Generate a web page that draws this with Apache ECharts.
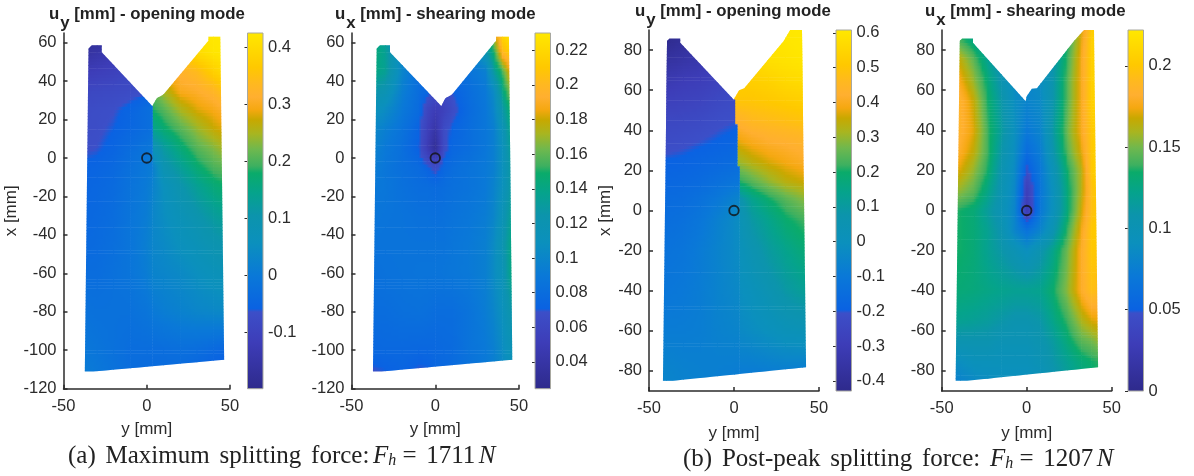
<!DOCTYPE html>
<html><head><meta charset="utf-8">
<style>html,body{margin:0;padding:0;background:#fff}#c{width:1194px;height:476px}</style>
<script src="https://cdn.jsdelivr.net/npm/echarts@6/dist/echarts.min.js"></script>
</head><body><div id="c"></div>
<script>
// ---------- colour scale (fraction, colour)
var scaleFractions = [0,.13,.216,.225,.316,.41,.487,.55,.606,.626,.673,.717,.756,.784,.82,.856,.903,.967,1];
var scaleColors = ['#2e2a8c','#3d3db8','#3c4fc8','#0a62e2','#0a78d8','#0b90bd','#0c94ac','#05a38c','#0aab6a','#3db060','#6fb84e','#a8b520','#c8a800','#f5a810','#ffaf30','#ffb820','#ffc800','#ffdd00','#ffe800'];

// ---------- panel 1: u_y, opening mode, maximum force
var rows1 = [65,55,45,35,25,15,5,-5,-15,-30,-45,-60,-80,-100,-115];
var cols1L = [-40,-30,-20,-10,0,4];
var vals1L = [
[-.19,-.19,-.17,-.15,-.12,-.1],
[-.165,-.15,-.13,-.11,-.09,-.085],
[-.125,-.115,-.105,-.09,-.08,-.07],
[-.09,-.085,-.08,-.075,-.068,-.065],
[-.075,-.07,-.065,-.05,-.03,-.02],
[-.072,-.068,-.058,-.045,-.03,-.02],
[-.068,-.063,-.05,-.03,-.01,0],
[-.055,-.05,-.04,-.02,0,.01],
[-.05,-.045,-.035,-.015,.005,.02],
[-.045,-.04,-.03,-.01,.01,.03],
[-.04,-.035,-.025,-.01,.015,.03],
[-.03,-.03,-.02,-.01,.01,.025],
[-.015,-.02,-.02,-.02,-.01,0],
[0,-.01,-.02,-.03,-.03,-.03],
[.015,0,-.015,-.03,-.035,-.035]];
var cols1R = [3,10,20,30,40,50];
var vals1R = [
[.28,.34,.39,.42,.425,.425],
[.27,.32,.36,.40,.42,.425],
[.25,.29,.32,.34,.38,.41],
[.21,.25,.30,.31,.33,.37],
[.18,.205,.25,.28,.295,.32],
[.14,.17,.205,.24,.27,.29],
[.075,.12,.165,.205,.23,.26],
[.01,.09,.13,.17,.2,.215],
[.02,.06,.10,.135,.165,.185],
[.03,.05,.075,.10,.125,.145],
[.03,.04,.06,.075,.095,.11],
[.025,.03,.04,.055,.07,.08],
[0,.01,.02,.03,.035,.04],
[-.03,-.03,-.025,-.03,-.04,-.05],
[-.035,-.035,-.04,-.05,-.07,-.08]];
var outline1L = [[-35,57],[-33,58.6],[-27,58.6],[-27,55],[3.3,27],[3.6,27],[3.6,-108.3],[-32,-111],[-37.2,-111]];
var outline1R = [[3.3,27],[6,31],[10,33],[37,61],[37,63],[44.2,63],[46.5,-105],[3.3,-108.3]];

// ---------- panel 2: u_x, shearing mode, maximum force
var rows2 = [65,55,45,35,25,15,5,-5,-15,-30,-45,-60,-80,-100,-115];
var cols2 = [-40,-30,-20,-10,-5,0,5,10,20,30,35,40,45,50];
var vals2 = [
[.14,.13,.10,.09,.085,.08,.085,.09,.10,.13,.18,.22,.23,.23],
[.15,.135,.10,.085,.08,.08,.08,.085,.09,.12,.15,.20,.215,.22],
[.145,.135,.10,.08,.08,.075,.075,.08,.085,.095,.13,.155,.19,.195],
[.13,.12,.095,.08,.075,.068,.065,.07,.08,.09,.105,.14,.17,.175],
[.115,.105,.09,.078,.06,.05,.055,.065,.078,.088,.10,.125,.15,.155],
[.105,.095,.085,.072,.055,.04,.065,.072,.08,.088,.095,.115,.14,.145],
[.10,.09,.082,.07,.05,.03,.065,.075,.08,.088,.095,.11,.135,.14],
[.095,.088,.082,.078,.072,.065,.075,.08,.085,.09,.095,.11,.13,.135],
[.09,.088,.083,.08,.08,.078,.08,.082,.085,.09,.098,.11,.13,.135],
[.088,.086,.085,.083,.083,.082,.083,.085,.088,.093,.10,.115,.135,.14],
[.085,.085,.085,.085,.085,.085,.085,.087,.09,.095,.105,.12,.14,.145],
[.082,.084,.085,.086,.086,.086,.087,.088,.09,.095,.105,.115,.14,.15],
[.08,.08,.082,.083,.082,.08,.08,.08,.085,.093,.10,.11,.125,.13],
[.075,.076,.076,.075,.075,.076,.077,.078,.085,.09,.095,.105,.115,.12],
[.065,.068,.072,.066,.067,.074,.076,.078,.083,.09,.095,.10,.11,.115]];
var outline2 = [[-35,57],[-33,58.6],[-27,58.6],[-27,55],[3.6,27],[6,31],[10,33],[36.3,61],[36.3,63],[44,63],[46,-105],[-32,-111],[-37.2,-111]];

// ---------- panel 3: u_y, opening mode, post-peak
var rows3 = [95,85,75,65,55,45,35,25,15,5,-5,-20,-40,-60,-80,-95];
var cols3L = [-50,-40,-30,-20,-10,0,10];
var vals3L = [
[-.43,-.43,-.41,-.39,-.36,-.34,-.33],
[-.42,-.42,-.39,-.37,-.34,-.32,-.3],
[-.38,-.37,-.35,-.33,-.30,-.28,-.27],
[-.33,-.32,-.30,-.29,-.27,-.25,-.24],
[-.29,-.28,-.27,-.26,-.24,-.225,-.215],
[-.25,-.245,-.24,-.23,-.215,-.205,-.2],
[-.225,-.225,-.215,-.205,-.195,-.185,-.17],
[-.2,-.195,-.19,-.18,-.17,-.16,-.14],
[-.18,-.175,-.17,-.16,-.14,-.12,-.1],
[-.16,-.155,-.15,-.13,-.1,-.06,-.02],
[-.15,-.145,-.135,-.11,-.07,-.03,.02],
[-.13,-.125,-.115,-.09,-.06,-.03,0],
[-.11,-.11,-.10,-.085,-.06,-.04,-.02],
[-.085,-.085,-.085,-.08,-.065,-.055,-.05],
[-.055,-.055,-.065,-.07,-.075,-.08,-.085],
[-.04,-.05,-.06,-.07,-.08,-.09,-.1]];
var cols3R = [0,10,20,30,40,50];
var vals3R = [
[.58,.59,.60,.61,.61,.61],
[.57,.58,.59,.60,.61,.61],
[.55,.56,.58,.59,.60,.60],
[.53,.53,.54,.56,.57,.58],
[.50,.50,.51,.52,.53,.54],
[.43,.46,.47,.48,.49,.50],
[.37,.40,.42,.43,.44,.45],
[.30,.34,.37,.39,.41,.42],
[.2,.25,.30,.34,.36,.38],
[.02,.13,.19,.24,.28,.30],
[0,.09,.14,.19,.22,.24],
[-.01,.05,.10,.14,.175,.19],
[-.02,.01,.05,.09,.12,.13],
[-.04,-.02,0,.02,.03,.04],
[-.085,-.085,-.08,-.075,-.08,-.085],
[-.1,-.1,-.1,-.1,-.1,-.1]];
var outline3L = [[-39.4,84.5],[-38,85.7],[-31.6,85.7],[-31.6,83.7],[-.2,55.3],[.7,55.3],[.7,43],[2.1,43],[2.1,22],[3.4,22],[3.4,-81.5],[-36,-84.9],[-41.8,-84.9]];
var outline3R = [[-.2,55.3],[3,60],[6,61],[29.2,84.5],[33,90],[40,90],[42.4,-78.2],[3.1,-81.5],[3.1,22],[1.9,22],[1.9,43],[.5,43],[.5,55.3]];

// ---------- panel 4: u_x, shearing mode, post-peak
var rows4 = [95,85,75,65,55,40,30,20,10,0,-10,-20,-40,-55,-65,-75,-85];
var cols4 = [-45,-39,-31,-23,-15,-7,0,8,16,24,32,38,45];
var vals4 = [
[.13,.13,.12,.105,.09,.085,.08,.09,.105,.13,.167,.2,.21],
[.14,.14,.125,.105,.09,.08,.078,.088,.105,.135,.172,.205,.215],
[.16,.165,.145,.12,.10,.085,.078,.088,.11,.14,.177,.205,.215],
[.175,.175,.155,.13,.105,.085,.08,.088,.11,.145,.177,.205,.215],
[.185,.185,.165,.135,.11,.088,.08,.085,.11,.145,.177,.205,.215],
[.185,.185,.17,.14,.115,.09,.07,.08,.115,.15,.177,.2,.215],
[.18,.18,.165,.14,.11,.088,.06,.075,.11,.145,.172,.2,.215],
[.17,.17,.155,.135,.105,.085,.045,.07,.10,.135,.162,.2,.215],
[.155,.155,.145,.125,.103,.082,.03,.068,.095,.13,.162,.195,.21],
[.14,.135,.13,.115,.10,.08,.025,.07,.095,.13,.167,.195,.205],
[.135,.135,.13,.12,.105,.08,.065,.08,.105,.14,.175,.2,.205],
[.135,.135,.13,.12,.11,.10,.09,.105,.125,.15,.18,.2,.2],
[.13,.13,.128,.125,.122,.12,.12,.122,.135,.155,.18,.195,.19],
[.12,.12,.118,.115,.11,.105,.105,.11,.125,.14,.16,.17,.175],
[.105,.105,.105,.105,.10,.10,.10,.105,.115,.13,.145,.15,.16],
[.09,.09,.095,.095,.095,.095,.095,.10,.11,.12,.13,.135,.14],
[.075,.08,.085,.088,.09,.09,.09,.095,.105,.115,.125,.13,.135]];
var outline4 = [[-39.4,84.5],[-38,85.7],[-31.6,85.7],[-31.6,83.7],[-.6,54.5],[0,57],[3,60.7],[6,61],[27.8,84.5],[33.7,90],[39.6,90],[42,-78.2],[-35,-84.9],[-41.8,-84.9]];

// ---------- ticks and colour ranges
var yTicksA = [-120,-100,-80,-60,-40,-20,0,20,40,60];
var yTicksB = [-80,-60,-40,-20,0,20,40,60,80];
var barTicks1 = [-.1,0,.1,.2,.3,.4];
var barTicks2 = [.04,.06,.08,.1,.12,.14,.16,.18,.2,.22];
var barTicks3 = [-.4,-.3,-.2,-.1,0,.1,.2,.3,.4,.5,.6];
var barTicks4 = [0,.05,.1,.15,.2];
var range1 = [-.198,.425], range2 = [.0245,.23], range3 = [-.429,.608], range4 = [0,.222];

// ---------- colour lookup
function hex(c){return [parseInt(c.substr(1,2),16),parseInt(c.substr(3,2),16),parseInt(c.substr(5,2),16)];}
var rgbStops = scaleColors.map(hex);
function colorAt(f){
  f = Math.max(0,Math.min(1,f));
  for (var k=1;k<scaleFractions.length;k++){
    if (f<=scaleFractions[k]){
      var t=(f-scaleFractions[k-1])/(scaleFractions[k]-scaleFractions[k-1]);
      var a=rgbStops[k-1], b=rgbStops[k];
      return 'rgb('+Math.round(a[0]+(b[0]-a[0])*t)+','+Math.round(a[1]+(b[1]-a[1])*t)+','+Math.round(a[2]+(b[2]-a[2])*t)+')';
    }
  }
  return scaleColors[scaleColors.length-1];
}

// ---------- one field patch drawn as a custom series on value axes
function fieldSeries(g, xs, ys, vals, outline, range){
  var data=[];
  xs.forEach(function(x,i){ ys.forEach(function(y,j){ data.push([y,x,vals[i][j]]); }); });
  var nc=ys.length, nr=xs.length, span=range[1]-range[0];
  return {
    type:'custom', coordinateSystem:'cartesian2d', xAxisIndex:g, yAxisIndex:g, silent:true, clip:false,
    data:data, encode:{x:0,y:1},
    renderItem:function(params,api){
      var idx=params.dataIndex, i=Math.floor(idx/nc), j=idx%nc;
      if (i>=nr-1||j>=nc-1) return null;
      var p0=api.coord([ys[j],xs[i]]), p1=api.coord([ys[j+1],xs[i+1]]);
      var w=p1[0]-p0[0], h=p1[1]-p0[1];
      var n=Math.max(1,Math.round(h/3)), m=Math.max(2,Math.round(w/2.5));
      var kids=[];
      for (var r=0;r<n;r++){
        var tv=(r+.5)/n, st=[];
        for (var s=0;s<=m;s++){
          var tu=s/m;
          var v=(1-tv)*((1-tu)*vals[i][j]+tu*vals[i][j+1])+tv*((1-tu)*vals[i+1][j]+tu*vals[i+1][j+1]);
          st.push({offset:tu,color:colorAt((v-range[0])/span)});
        }
        kids.push({type:'rect',silent:true,
          shape:{x:p0[0],y:p0[1]+r*h/n,width:w+.6,height:h/n+.6},
          style:{fill:new echarts.graphic.LinearGradient(0,0,1,0,st)}});
      }
      return {type:'group',children:kids,
        clipPath:{type:'polygon',shape:{points:outline.map(function(q){return api.coord(q);})}}};
    }
  };
}

function barSeries(g, range){
  return {
    type:'custom', coordinateSystem:'cartesian2d', xAxisIndex:g, yAxisIndex:g, silent:true,
    data:[[0,range[0],range[1]]],
    renderItem:function(params,api){
      var a=api.coord([0,range[1]]), b=api.coord([1,range[0]]);
      var st=scaleFractions.map(function(f,k){return {offset:1-f,color:scaleColors[k]};}).reverse();
      return {type:'rect',shape:{x:a[0],y:a[1],width:b[0]-a[0],height:b[1]-a[1]},
        style:{fill:new echarts.graphic.LinearGradient(0,0,0,1,st)}};
    }
  };
}

var INK='#2b2b2b', FONT='"Liberation Sans",Arial,sans-serif';
var grids=[], xAxes=[], yAxes=[], series=[], titles=[];

function addPanel(left,width,top,height,yMin,yMax,yTicks,yName,yGap,xGap,barLeft,range,barTicks,fields){
  var g=grids.length;
  grids.push({left:left,width:width,top:top,height:height});
  xAxes.push({gridIndex:g,type:'value',min:-50,max:50,interval:50,name:'y [mm]',nameLocation:'middle',nameGap:xGap,
    nameTextStyle:{fontFamily:FONT,fontSize:17,color:INK},
    axisLine:{show:true,onZero:false,lineStyle:{color:INK,width:1.5}},
    axisTick:{show:true,inside:true,length:4,lineStyle:{color:INK,width:1.5}},
    axisLabel:{fontFamily:FONT,fontSize:16.5,color:INK,margin:9,hideOverlap:false},splitLine:{show:false}});
  yAxes.push({gridIndex:g,type:'value',min:yMin,max:yMax,name:yName,nameLocation:'middle',nameGap:yGap,nameRotate:90,
    nameTextStyle:{fontFamily:FONT,fontSize:17,color:INK},
    axisLine:{show:true,onZero:false,lineStyle:{color:INK,width:1.5}},
    axisTick:{show:true,inside:true,length:4,customValues:yTicks,lineStyle:{color:INK,width:1.5}},
    axisLabel:{fontFamily:FONT,fontSize:16.5,color:INK,margin:7,customValues:yTicks,showMinLabel:true,showMaxLabel:true},splitLine:{show:false}});
  fields.forEach(function(f){ series.push(fieldSeries(g,f[0],f[1],f[2],f[3],range)); });
  series.push({type:'scatter',xAxisIndex:g,yAxisIndex:g,silent:true,data:[[0,0]],symbol:'circle',symbolSize:9.5,
    itemStyle:{color:'rgba(0,0,0,0)',borderColor:'#111',borderWidth:1.8},z:5});
  var b=grids.length;
  grids.push({left:barLeft,width:15.5,top:top,height:height,show:true,backgroundColor:'transparent',borderColor:'#a8a8a0',borderWidth:1,z:3});
  xAxes.push({gridIndex:b,type:'value',min:0,max:1,show:false});
  yAxes.push({gridIndex:b,type:'value',position:'right',min:range[0],max:range[1],
    axisLine:{show:false},
    axisTick:{show:true,inside:true,length:3,customValues:barTicks,lineStyle:{color:INK,width:1}},
    axisLabel:{fontFamily:FONT,fontSize:16.5,color:INK,margin:5,customValues:barTicks},splitLine:{show:false}});
  series.push(barSeries(b,range));
}

addPanel(63.5,166.5,33,355.7,-120,65,yTicksA,'x [mm]',36,32,247.5,range1,barTicks1,[[rows1,cols1R,vals1R,outline1R],[rows1,cols1L,vals1L,outline1L]]);
addPanel(351.5,167.5,33,355.7,-120,65,yTicksA,'',36,32,535,range2,barTicks2,[[rows2,cols2,vals2,outline2]]);
addPanel(649,170,30,361,-90,90,yTicksB,'x [mm]',28,34,836,range3,barTicks3,[[rows3,cols3R,vals3R,outline3R],[rows3,cols3L,vals3L,outline3L]]);
addPanel(941.7,170,30,361,-90,90,yTicksB,'',28,34,1128,range4,barTicks4,[[rows4,cols4,vals4,outline4]]);

function headRich(){return {
  m:{fontFamily:FONT,fontSize:16.8,fontWeight:'bold',color:'#222',padding:[0,0,9,0]},
  s:{fontFamily:FONT,fontSize:16.8,fontWeight:'bold',color:'#222',padding:[9,0,0,1]}
};}
function head(sub,rest,left,top){
  titles.push({text:'{m|u}{s|'+sub+'}{m| [mm] - '+rest+'}',left:left,top:top,padding:0,textStyle:{rich:headRich()}});
}
head('y','opening mode',49,6);
head('x','shearing mode',335,6);
head('y','opening mode',635,3);
head('x','shearing mode',925,3);

var SERIF='"Liberation Serif","Times New Roman",serif';
function capRich(){return {
  t:{fontFamily:SERIF,fontSize:25,fontWeight:'normal',color:'#222'},
  w:{fontFamily:SERIF,fontSize:25,fontWeight:'normal',color:'#222',padding:[0,3.5,0,0]},
  i:{fontFamily:SERIF,fontSize:25,fontWeight:'normal',fontStyle:'italic',color:'#222'},
  h:{fontFamily:SERIF,fontSize:16,fontWeight:'normal',fontStyle:'italic',color:'#222',padding:[10,0,0,0]}
};}
titles.push({text:'{w|(a) }{w|Maximum }{w|splitting }{w|force:}{i|F}{h|h}{w| = }{w|1711}{i|N}',left:68,top:443,padding:0,textStyle:{rich:capRich()}});
titles.push({text:'{w|(b) }{w|Post-peak }{w|splitting }{w|force: }{i|F}{h|h}{w| = }{w|1207}{i|N}',left:683,top:446,padding:0,textStyle:{rich:capRich()}});

var chart=echarts.init(document.getElementById('c'),null,{renderer:'canvas'});
chart.setOption({animation:false,backgroundColor:'#fff',title:titles,grid:grids,xAxis:xAxes,yAxis:yAxes,series:series});
</script></body></html>
